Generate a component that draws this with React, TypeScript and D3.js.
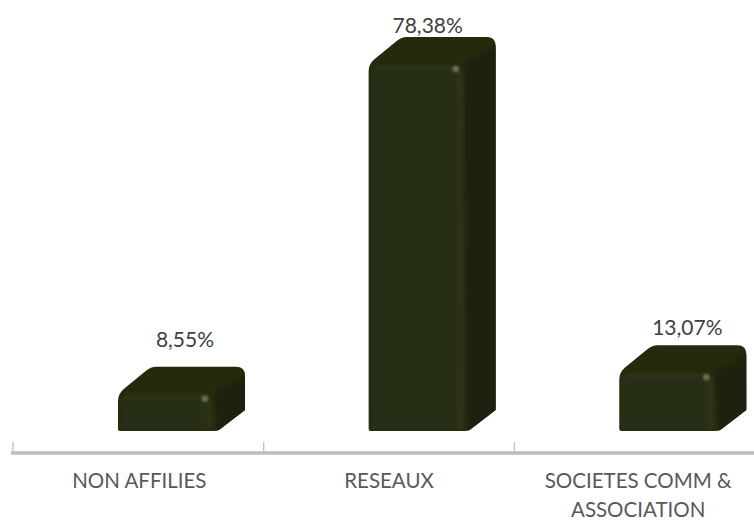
import React from "react";
import * as d3 from "d3";

const categories = ["NON AFFILIES", "RESEAUX", "SOCIETES COMM &"];
const categoryLine2 = ["", "", "ASSOCIATION"];
const values = [8.55, 78.38, 13.07];
const valueLabels = ["8,55%", "78,38%", "13,07%"];

const W = 754, H = 520;
const baseY = 431, axisY = 453;
const x = d3.scaleBand<string>().domain(categories).range([13, 765]).paddingInner(0).paddingOuter(0);
const y = d3.scaleLinear().domain([0, 78.38]).range([baseY, 61]);
const barW = 98, dx = 29, dy = 24, offset = 105;
const FONT = "Lato, sans-serif";

function silhouette(l: number, r: number, t: number, b: number) {
  const p = d3.path();
  p.moveTo(l + 2, b);
  p.quadraticCurveTo(l, b, l, b - 2);
  p.lineTo(l, t + 10);
  p.quadraticCurveTo(l, t + 3, l + 6, t - 2);
  p.lineTo(l + dx - 1, t - dy + 4);
  p.quadraticCurveTo(l + dx + 4, t - dy, l + dx + 9, t - dy);
  p.lineTo(r + dx - 9, t - dy);
  p.quadraticCurveTo(r + dx, t - dy, r + dx, t - dy + 9);
  p.lineTo(r + dx, b - 21);
  p.lineTo(r + 3, b - 1);
  p.quadraticCurveTo(r + 1, b, r - 3, b);
  p.closePath();
  return p.toString();
}

export default function App() {
  return (
    <svg width={W} height={H} style={{ position: "absolute", left: 0, top: 0, background: "#fff" }}>
      <defs>
        <filter id="soft" x="-10%" y="-10%" width="120%" height="120%">
          <feGaussianBlur stdDeviation="0.7" />
        </filter>
        <filter id="soft2" x="-30%" y="-30%" width="160%" height="160%">
          <feGaussianBlur stdDeviation="2" />
        </filter>
        <filter id="spot" x="-100%" y="-100%" width="300%" height="300%">
          <feGaussianBlur stdDeviation="1.3" />
        </filter>
      </defs>
      <line x1={11} x2={W} y1={axisY} y2={axisY} stroke="#bdbdbd" strokeWidth={3.5} />
      {d3.range(3).map((i) => {
        const tx = 13 + i * x.bandwidth();
        return <line key={i} x1={tx} x2={tx} y1={442} y2={452} stroke="#c4c4c4" strokeWidth={1.4} />;
      })}
      {categories.map((c, i) => {
        const l = x(c)! + offset;
        const r = l + barW;
        const t = y(values[i]);
        const clipId = `clip${i}`;
        return (
          <g key={c}>
            <clipPath id={clipId}>
              <path d={silhouette(l, r, t, baseY)} />
            </clipPath>
            <g filter="url(#soft)">
              <path d={silhouette(l, r, t, baseY)} fill="#252a10" />
            </g>
            <g clipPath={`url(#${clipId})`}>
              <g filter="url(#soft2)">
                <path
                  d={`M${r - 3},${t + 4} L${r + dx + 4},${t - dy + 6} L${r + dx + 4},${baseY - 18} L${r + 1},${baseY + 4} Z`}
                  fill="#1a200b"
                />
                <rect x={l + 2} y={t + 8} width={barW - 14} height={baseY - t - 8} fill="#272d12" />
                <rect x={r - 11} y={t + 8} width={8} height={baseY - t - 8} fill="#2d3318" />
                <rect x={l + 6} y={t + 5} width={barW - 16} height={3} fill="#31371c" />
              </g>
              <circle cx={r - 11} cy={t + 8} r={3.2} fill="#6a7056" filter="url(#spot)" />
            </g>
            <text
              x={x(c)! + [172, 164, 173][i]}
              y={[347, 33, 335][i]}
              textAnchor="middle"
              fontFamily={FONT}
              fontSize={21}
              fill="#404040"
            >
              {valueLabels[i]}
            </text>
            <text x={x(c)! + x.bandwidth() / 2 + [1, 0, -1.5][i]} y={488} textAnchor="middle" fontFamily={FONT} fontSize={20.5} fill="#595959">
              {c}
            </text>
            {categoryLine2[i] && (
              <text x={x(c)! + x.bandwidth() / 2 - 1.5} y={517} textAnchor="middle" fontFamily={FONT} fontSize={20.5} fill="#595959">
                {categoryLine2[i]}
              </text>
            )}
          </g>
        );
      })}
    </svg>
  );
}
